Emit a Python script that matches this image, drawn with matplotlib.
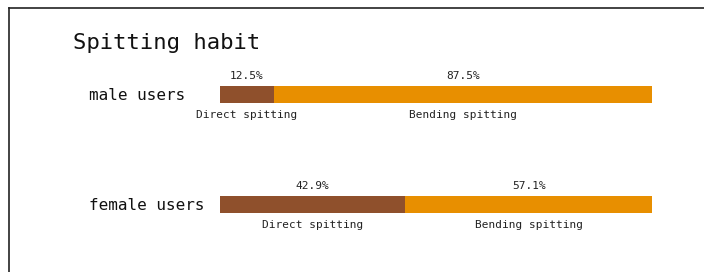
import matplotlib
matplotlib.use('Agg')
import matplotlib.pyplot as plt
from matplotlib.lines import Line2D

# data
groups = ['male users', 'female users']
habits = ['Direct spitting', 'Bending spitting']
direct = [12.5, 42.9]
bending = [87.5, 57.1]
colors = ['#8f502c', '#e88f00']

plt.rcParams['font.family'] = 'DejaVu Sans Mono'

fig = plt.figure(figsize=(7.04, 2.72), dpi=100)
ax = fig.add_axes([220/704, 12.5/272, 432/704, 220/272])

ypos = list(range(len(groups)))
h = 0.155
ax.barh(ypos, direct, height=h, color=colors[0])
ax.barh(ypos, bending, left=direct, height=h, color=colors[1])

# percent above, habit name below each segment
for i in ypos:
    lefts = [0, direct[i]]
    vals = [direct[i], bending[i]]
    for j in range(2):
        xc = lefts[j] + vals[j] / 2
        ax.annotate('%.1f%%' % vals[j], (xc, i), xytext=(0, 13.3),
                    textcoords='offset points', ha='center', va='center',
                    fontsize=8, color='#222222')
        ax.annotate(habits[j], (xc, i), xytext=(0, -14.4),
                    textcoords='offset points', ha='center', va='center',
                    fontsize=8, color='#222222')

ax.set_xlim(0, 100)
ax.set_ylim(1.5, -0.5)
ax.set_xticks([])
ax.set_yticks(ypos)
ax.set_yticklabels(groups, fontsize=11.5, color='#111111')
for lab in ax.get_yticklabels():
    lab.set_ha('left')
ax.tick_params(axis='y', length=0, pad=94)
for s in ax.spines.values():
    s.set_visible(False)

fig.text(73/704, 1 - 43/272, 'Spitting habit', fontsize=16, va='center',
         color='#111111')

# frame of the screenshot
fig.add_artist(Line2D([8.5/704, 8.5/704], [0, 1 - 7.5/272],
                      transform=fig.transFigure, color='#222222', lw=1.2))
fig.add_artist(Line2D([8.5/704, 1], [1 - 7.5/272, 1 - 7.5/272],
                      transform=fig.transFigure, color='#222222', lw=1.2))

fig.savefig('out.png', dpi=100)
